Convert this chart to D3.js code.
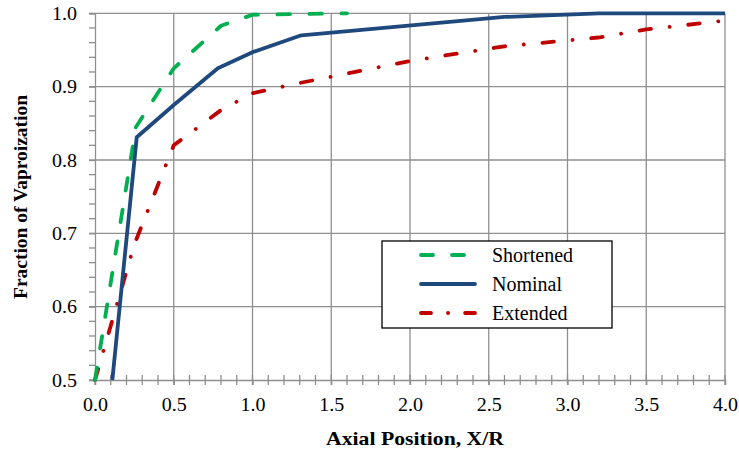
<!DOCTYPE html>
<html><head><meta charset="utf-8">
<script src="https://cdn.jsdelivr.net/npm/d3@7"></script>
<style>body{margin:0;background:#fff}svg{display:block}
text{font-family:"Liberation Serif","Times New Roman",Times,"DejaVu Serif",serif;}</style>
</head><body>
<svg id="c" width="739" height="450"></svg>
<script>
const xTicks = [0,0.5,1.0,1.5,2.0,2.5,3.0,3.5,4.0];
const yTicks = [0.5,0.6,0.7,0.8,0.9,1.0];
const shortenedX = [0, 0.26, 0.5, 0.8, 1.0, 1.6];
const shortenedY = [0.5, 0.845, 0.925, 0.983, 0.998, 1.0];
const nominalX = [0.11, 0.265, 0.5, 0.78, 1.0, 1.31, 2.6, 3.2, 4.0];
const nominalY = [0.5, 0.831, 0.875, 0.925, 0.947, 0.97, 0.995, 1.0, 1.0];
const extendedX = [0, 0.25, 0.5, 0.8, 1.0, 1.3, 2.0, 2.6, 3.2, 3.5, 4.0];
const extendedY = [0.5, 0.685, 0.82, 0.868, 0.891, 0.905, 0.935, 0.955, 0.967, 0.978, 0.99];
const seriesNames = ["Shortened","Nominal","Extended"];

const svg = d3.select("#c");
const x = d3.scaleLinear().domain([0,4]).range([95,725]);
const y = d3.scaleLinear().domain([0.5,1.0]).range([380,13.3]);
const gridColor = "#8f8f8f";
const font = '"Liberation Serif","Times New Roman",Times,"DejaVu Serif",serif';

// gridlines
svg.append("g").selectAll("line").data(xTicks.slice(1)).join("line")
  .attr("x1",d=>x(d)).attr("x2",d=>x(d)).attr("y1",y(0.5)).attr("y2",y(1.0))
  .attr("stroke",gridColor).attr("stroke-width",1.3);
svg.append("g").selectAll("line").data(yTicks.slice(1)).join("line")
  .attr("x1",x(0)).attr("x2",x(4)).attr("y1",d=>y(d)).attr("y2",d=>y(d))
  .attr("stroke",gridColor).attr("stroke-width",1.3);

// minor ticks
const xMinor = d3.range(0,4.0001,0.1);
const yMinor = d3.range(0.5,1.0001,0.02);
svg.append("g").selectAll("line").data(xMinor).join("line")
  .attr("x1",d=>x(d)).attr("x2",d=>x(d)).attr("y1",y(0.5)-5).attr("y2",y(0.5)+5)
  .attr("stroke",gridColor).attr("stroke-width",1.3);
svg.append("g").selectAll("line").data(yMinor).join("line")
  .attr("x1",x(0)-6).attr("x2",x(0)).attr("y1",d=>y(d)).attr("y2",d=>y(d))
  .attr("stroke",gridColor).attr("stroke-width",1.3);

// axes
const xAxis = svg.append("g").attr("transform",`translate(0,${y(0.5)})`)
  .call(d3.axisBottom(x).tickValues(xTicks).tickFormat(d3.format(".1f")).tickSize(5).tickPadding(13));
const yAxis = svg.append("g").attr("transform",`translate(${x(0)},0)`)
  .call(d3.axisLeft(y).tickValues(yTicks).tickFormat(d3.format(".1f")).tickSize(6).tickPadding(12));
[xAxis,yAxis].forEach(a=>{
  a.attr("font-family",font);
  a.select(".domain").attr("stroke",gridColor).attr("stroke-width",1.3);
  a.selectAll(".tick line").attr("stroke",gridColor).attr("stroke-width",1.3);
  a.selectAll("text").style("font-family",font).attr("font-size",19).attr("fill","#000")
    .attr("textLength",25).attr("lengthAdjust","spacingAndGlyphs");
});

// series
const line = d3.line().x(d=>x(d[0])).y(d=>y(d[1]));
const zip = (a,b)=>a.map((v,i)=>[v,b[i]]);
const styles = [
  {color:"#00B050", dash:"12.5,19.5"},
  {color:"#1F497D", dash:null},
  {color:"#C00000", dash:"11.5,18.7,0.1,18.7"}
];
const data = [zip(shortenedX,shortenedY), zip(nominalX,nominalY), zip(extendedX,extendedY)];
const plot = svg.append("g");
[2,0,1].forEach(i=>{
  plot.append("path").datum(data[i]).attr("d",line)
    .attr("fill","none").attr("stroke",styles[i].color).attr("stroke-width",3.8)
    .attr("stroke-linecap",styles[i].dash?"round":"butt").attr("stroke-linejoin","round")
    .attr("stroke-dasharray",styles[i].dash);
});

// axis titles
svg.append("text").attr("x",415).attr("y",445).attr("text-anchor","middle")
  .style("font-family",font).attr("font-weight","bold").attr("font-size",19)
  .attr("textLength",178).attr("lengthAdjust","spacingAndGlyphs").text("Axial Position, X/R");
svg.append("text").attr("transform","translate(27,197) rotate(-90)").attr("text-anchor","middle")
  .style("font-family",font).attr("font-weight","bold").attr("font-size",19)
  .attr("textLength",204).attr("lengthAdjust","spacingAndGlyphs").text("Fraction of Vaproization");

// legend
const lg = svg.append("g");
lg.append("rect").attr("x",382).attr("y",241).attr("width",230).attr("height",87)
  .attr("fill","#fff").attr("stroke","#000").attr("stroke-width",1.3);
const legendDash = ["12,19","",  "10,17,0.1,17"];
seriesNames.forEach((n,i)=>{
  const yy = 255 + i*29;
  lg.append("line").attr("x1",421).attr("x2",475).attr("y1",yy).attr("y2",yy)
    .attr("stroke",styles[i].color).attr("stroke-width",3.8).attr("stroke-linecap","round")
    .attr("stroke-dasharray",legendDash[i]||null);
  lg.append("text").attr("x",492).attr("y",yy+6.5).style("font-family",font).attr("font-size",20).text(n);
});
</script>
</body></html>
